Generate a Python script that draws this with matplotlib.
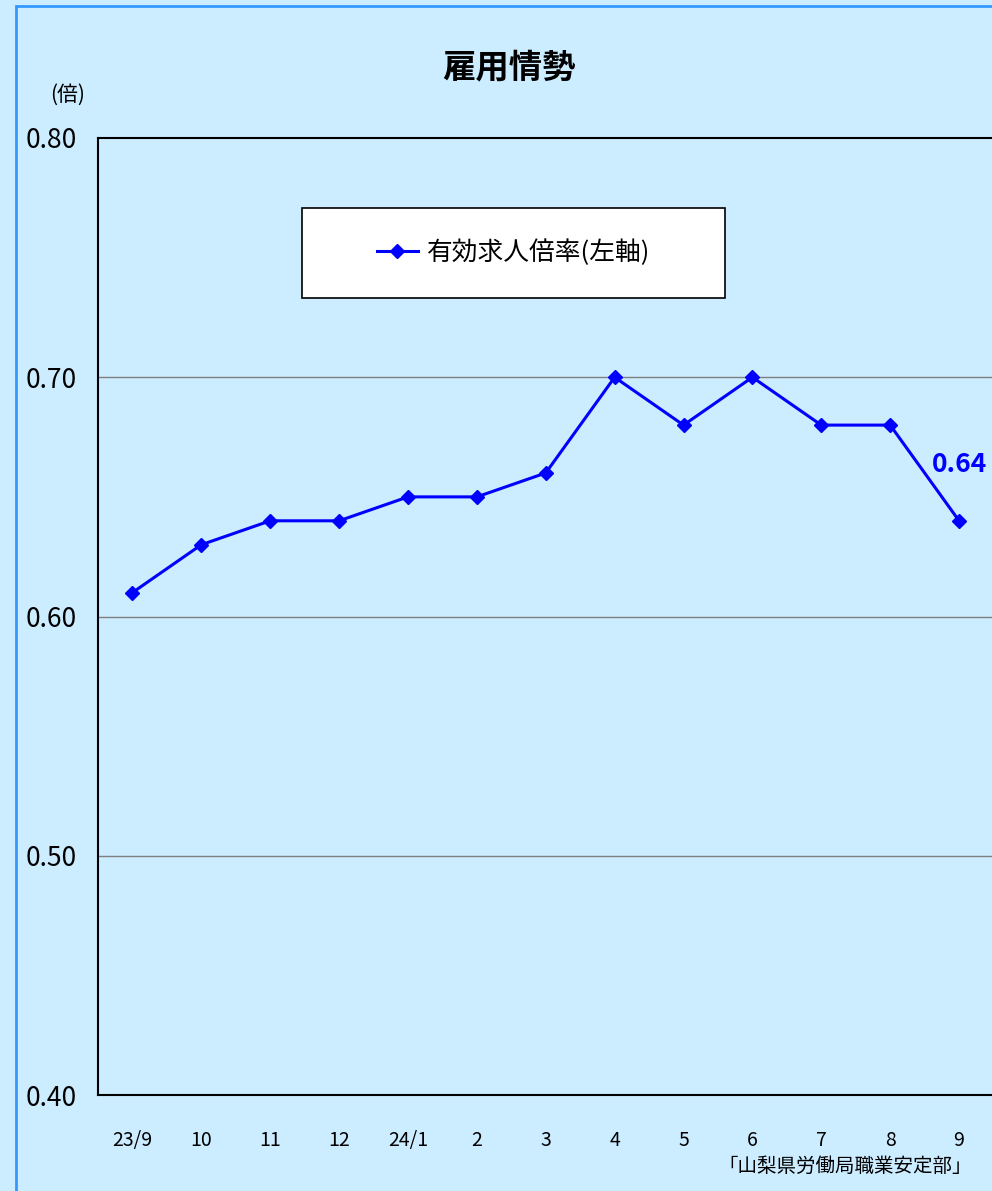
import matplotlib
matplotlib.use("Agg")
import matplotlib.pyplot as plt
from matplotlib.patches import Rectangle

# --- データ ---
labels = ["23/9", "10", "11", "12", "24/1", "2", "3", "4", "5", "6", "7", "8", "9"]
ratio = [0.61, 0.63, 0.64, 0.64, 0.65, 0.65, 0.66, 0.70, 0.68, 0.70, 0.68, 0.68, 0.64]
yticks = [0.40, 0.50, 0.60, 0.70, 0.80]
series_name = "有効求人倍率(左軸)"
title = "雇用情勢"
source = "「山梨県労働局職業安定部」"

BG = "#CCECFF"
BLUE = "#0000FF"
JP = ["Noto Sans CJK JP", "DejaVu Sans"]
plt.rcParams["font.family"] = JP

W, H = 992, 1191
fig = plt.figure(figsize=(W / 100, H / 100), dpi=100, facecolor=BG)

# 外枠
fig.patches.append(Rectangle((16 / W, -0.1), 1.2, 1 - 6 / H + 0.1, transform=fig.transFigure,
                             fill=False, edgecolor="#3399FF", linewidth=2))

ax = fig.add_axes([98 / W, 96 / H, 895.5 / W, 957 / H])
ax.set_facecolor(BG)

x = list(range(len(labels)))
ax.plot(x, ratio, color=BLUE, linewidth=2.2, marker="D", markersize=7.5, label=series_name)

ax.set_xlim(-0.5, len(labels) - 0.5)
ax.set_ylim(0.40, 0.80)
ax.set_yticks(yticks)
ax.set_yticklabels([f"{v:.2f}" for v in yticks], fontsize=19)
ax.set_xticks(x)
ax.set_xticklabels(labels, fontsize=14)
ax.tick_params(axis="both", length=0)
ax.tick_params(axis="x", pad=25)
ax.tick_params(axis="y", pad=15)

for v in yticks[1:-1]:
    ax.axhline(v, color="#808080", linewidth=1, zorder=0)

for s in ["left", "top", "bottom"]:
    ax.spines[s].set_linewidth(1.5)
    ax.spines[s].set_color("black")
ax.spines["right"].set_visible(False)

# 最新値ラベル
ax.annotate(f"{ratio[-1]:.2f}", (x[-1], ratio[-1]), xytext=(0, 31), textcoords="offset points",
            ha="center", va="bottom", color=BLUE, fontsize=19, fontweight="bold")

# 凡例
ax.add_patch(Rectangle((0.2278, 0.8328), 0.4725, 0.0941, transform=ax.transAxes,
                       facecolor="white", edgecolor="black", linewidth=1.2, zorder=3))
leg = ax.legend(loc="center", bbox_to_anchor=(0.4640, 0.8798), frameon=False,
                prop={"family": JP, "size": 18.5}, handlelength=1.6, handletextpad=0.35)
leg.set_zorder(4)

fig.text(509 / W, 1 - 68 / H, title, ha="center", va="center", fontsize=24, fontweight="bold")
fig.text(68 / W, 1 - 95 / H, "(倍)", ha="center", va="center", fontsize=15)
fig.text(972 / W, 1 - 1166 / H, source, ha="right", va="center", fontsize=14)

fig.savefig("out.png", dpi=100, facecolor=BG)
